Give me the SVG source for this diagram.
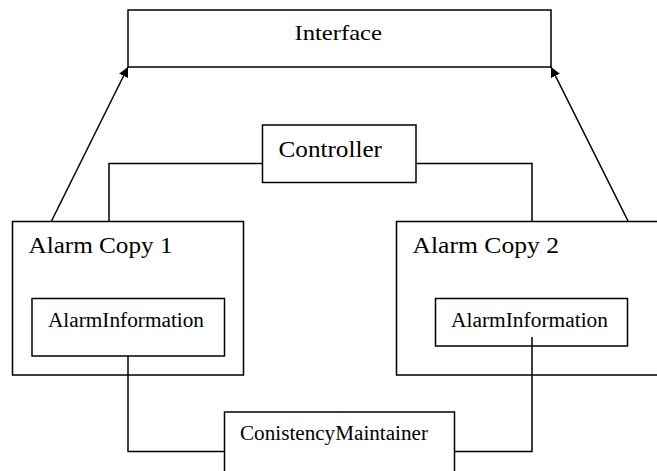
<svg xmlns="http://www.w3.org/2000/svg" width="657" height="471" viewBox="0 0 657 471">
<style>
.box{fill:#fff;stroke:#000;stroke-width:1.5}
.t{font-family:"Liberation Serif","Times New Roman",serif;fill:#000}
.c{fill:none;stroke:#000;stroke-width:1.5}
</style>
<defs>
<marker id="ah" viewBox="0 0 10 10" refX="10" refY="5" markerWidth="10" markerHeight="10" markerUnits="userSpaceOnUse" orient="auto">
<path d="M0,0 L10,5 L0,10 z" fill="#000"/>
</marker>
</defs>
<rect width="657" height="471" fill="#fff"/>
<g id="interface">
<rect class="box" x="128" y="10" width="423" height="57"/>
<text class="t" x="294.5" y="40" font-size="21" textLength="87.5" lengthAdjust="spacingAndGlyphs">Interface</text>
</g>
<g id="controller">
<rect class="box" x="262.5" y="125" width="153.5" height="57.5"/>
<text class="t" x="278.5" y="157" font-size="24" textLength="103.5" lengthAdjust="spacingAndGlyphs">Controller</text>
</g>
<g id="alarmcopy1">
<rect class="box" x="12.5" y="221.5" width="231" height="153.5"/>
<text class="t" x="28.5" y="253" font-size="24" textLength="144" lengthAdjust="spacingAndGlyphs">Alarm Copy 1</text>
</g>
<g id="alarmcopy2">
<rect class="box" x="396.5" y="221.5" width="270" height="153.5"/>
<text class="t" x="412.5" y="253" font-size="24" textLength="146.5" lengthAdjust="spacingAndGlyphs">Alarm Copy 2</text>
</g>
<g id="alarminfo1">
<rect class="box" x="32" y="298.5" width="192.5" height="57.5"/>
<text class="t" x="48" y="327" font-size="20" textLength="156" lengthAdjust="spacingAndGlyphs">AlarmInformation</text>
</g>
<g id="alarminfo2">
<rect class="box" x="435.5" y="298.5" width="192" height="47.5"/>
<text class="t" x="451" y="327" font-size="20" textLength="157" lengthAdjust="spacingAndGlyphs">AlarmInformation</text>
</g>
<g id="consistency">
<rect class="box" x="224.5" y="412" width="230" height="70"/>
<text class="t" x="240" y="440" font-size="20" textLength="188" lengthAdjust="spacingAndGlyphs">ConistencyMaintainer</text>
</g>
<g id="connectors">
<path class="c" d="M262.5,163.5 H109 V221.5"/>
<path class="c" d="M416,163.5 H532 V221.5"/>
<path class="c" d="M128,356 V451.5 H224.5"/>
<path class="c" d="M454.5,451.5 H532 V337"/>
<path class="c" d="M51.5,221 L128,67" stroke-width="2" marker-end="url(#ah)"/>
<path class="c" d="M628,221 L551,67" stroke-width="2.5" marker-end="url(#ah)"/>
</g>
</svg>
